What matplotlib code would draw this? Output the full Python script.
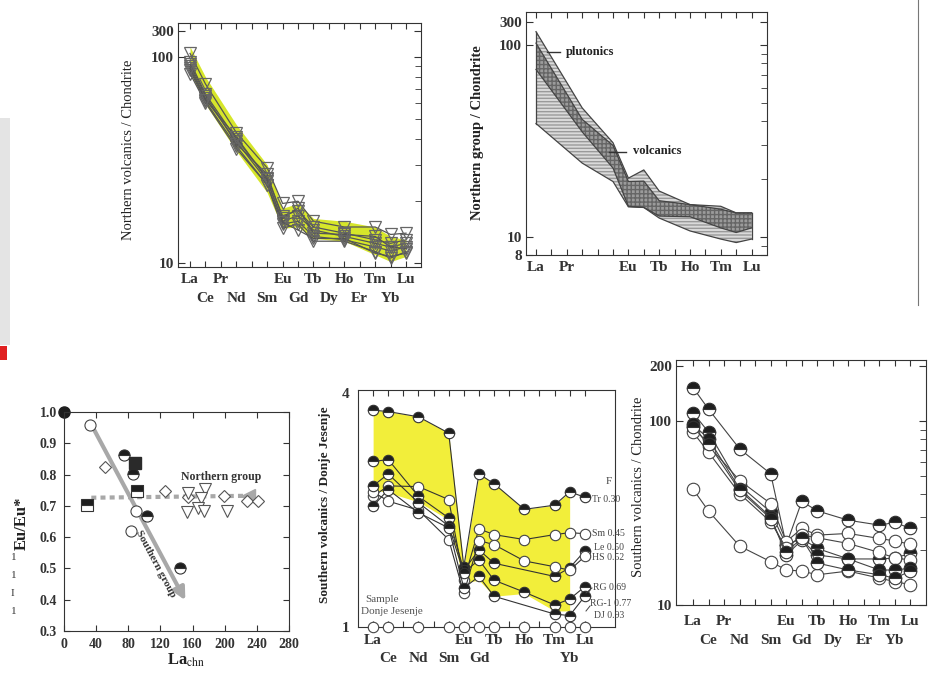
import numpy as np
import matplotlib
matplotlib.use("Agg")
import matplotlib.pyplot as plt
from matplotlib.lines import Line2D
from matplotlib.patches import Rectangle
from matplotlib.ticker import LogLocator, NullFormatter

plt.rcParams['font.family'] = ['Liberation Serif', 'DejaVu Serif']
plt.rcParams['mathtext.fontset'] = 'stix'
plt.rcParams['axes.edgecolor'] = '#333333'
plt.rcParams['xtick.color'] = '#333333'
plt.rcParams['ytick.color'] = '#333333'
plt.rcParams['text.color'] = '#222222'

W, H = 933, 677
nan = np.nan

ree = ['La', 'Ce', 'Pr', 'Nd', 'Pm', 'Sm', 'Eu', 'Gd', 'Tb', 'Dy', 'Ho', 'Er', 'Tm', 'Yb', 'Lu']
ree_x = {e: i + 1 for i, e in enumerate(ree)}

#*** data: northern volcanics / chondrite ***#
nv_elems = ['La', 'Ce', 'Nd', 'Sm', 'Eu', 'Gd', 'Tb', 'Ho', 'Tm', 'Yb', 'Lu']
nv_a = [104, 74, 43, 29, 19.5, 20, 16, 15, 15, 13.8, 14]
nv_b = [95, 66, 40, 26, 17, 18, 15, 14, 13, 12.5, 13]
nv_c = [90, 63, 39, 25, 16, 17, 14.5, 13.5, 12.5, 12, 12.5]
nv_d = [86, 61, 37, 24, 15.5, 16, 13.5, 13, 12, 11.5, 12]
nv_e = [83, 60, 36, 24, 14.8, 15.5, 12.8, 12.8, 11.4, 10.6, 11.4]
nv_f = [92, 65, 38, 27, 16.5, 18.5, 14, 13.8, 13.5, 12, 11.8]
nv_g = [88, 62, 41, 25.5, 15.8, 14.5, 13.2, 13.2, 11.2, 10.8, 11.2]
nv_band_hi = [112, 80, 47, 30, 18.5, 19.5, 16.5, 16, 15, 13.5, 13]
nv_band_lo = [84, 59, 35, 22, 14.8, 15, 13.2, 12.8, 11, 10.2, 10.8]

#*** data: northern group envelopes ***#
ng_elems = ['La', 'Nd', 'Sm', 'Eu', 'Gd', 'Tb', 'Ho', 'Tm', 'Yb', 'Lu']
plut_hi = [117, 47, 31, 20.3, 22.4, 17.4, 14.8, 14.5, 13.4, 13.4]
plut_lo = [39, 24.3, 19.5, 14.4, 14.3, 12.6, 10.8, 9.8, 9.4, 9.8]
volc_hi = [102, 41, 30, 19.5, 19.6, 15.5, 14.8, 14, 13.4, 13.4]
volc_lo = [74.5, 35.3, 22.9, 14.5, 14.3, 12.9, 12.8, 11.2, 10.6, 11.2]

#*** data: Eu/Eu* vs La ***#
open_circ_x = [32, 89.6, 83]
open_circ_y = [0.96, 0.685, 0.621]
half_circ_x = [75, 85.4, 103, 144]
half_circ_y = [0.864, 0.803, 0.666, 0.50]
full_circ_x = [0]
full_circ_y = [1.0]
full_sq_x = [88.3]
full_sq_y = [0.837]
half_sq_x = [91, 28]
half_sq_y = [0.746, 0.703]
diam_x = [51, 126, 154, 199, 228, 242]
diam_y = [0.823, 0.748, 0.728, 0.732, 0.714, 0.716]
tri_x = [154, 176, 171, 153, 167, 174, 203]
tri_y = [0.741, 0.754, 0.725, 0.68, 0.693, 0.682, 0.685]

#*** data: southern volcanics / Donje Jesenje ***#
sj_elems = ['La', 'Ce', 'Nd', 'Sm', 'Eu', 'Gd', 'Tb', 'Ho', 'Tm', 'Yb', 'Lu']
sj_tr = [3.62, 3.59, 3.48, 3.16, 1.43, 2.48, 2.34, 2.01, 2.06, 2.23, 2.16]
sj_sm = [2.17, 2.31, 2.30, 2.13, 1.32, 1.79, 1.73, 1.68, 1.73, 1.75, 1.74]
sj_le = [2.67, 2.70, 2.17, 1.91, 1.40, 1.58, 1.46, nan, 1.35, 1.42, 1.57]
sj_hs = [2.23, 2.11, 2.00, 1.68, 1.22, 1.67, 1.63, 1.48, 1.43, 1.40, 1.52]
sj_rg = [2.31, 2.48, 2.09, 1.82, 1.38, 1.49, 1.32, 1.23, 1.14, 1.18, 1.27]
sj_rg1 = [2.05, 2.26, 1.97, 1.80, 1.26, 1.35, 1.20, nan, 1.08, 1.07, 1.20]
sj_dj = [1.0] * 11
sj_fill_lo = [2.26, 2.22, 2.10, 1.89, 1.30, 1.32, 1.20, 1.22, 1.10, 1.10]
sj_labels = ['Tr 0.30', 'Sm 0.45', 'Le 0.50', 'HS 0.52', 'RG 0.69', 'RG-1 0.77', 'DJ 0.93']

#*** data: southern volcanics / chondrite ***#
sv_elems = ['La', 'Ce', 'Nd', 'Sm', 'Eu', 'Gd', 'Tb', 'Ho', 'Tm', 'Yb', 'Lu']
sv_1 = [152, 116, 70.6, 51.7, 21.2, 36.6, 32.5, 28.9, 27.2, 28.1, 26.1]
sv_2 = [42.6, 32.4, 20.9, 17.2, 15.5, 15.3, 14.6, 15.3, 14.0, 13.4, 12.9]
sv_3 = [111, 87, 44.7, 32, 21.2, 23, 20.3, 17.8, 17.8, 18, 19.1]
sv_4 = [94.4, 73.6, 47.5, 35.6, 22.1, 26.1, 24, 24.5, 23, 22.3, 21.4]
sv_5 = [87, 67.6, 40.3, 28.3, 20.4, 24, 23.2, 21.6, 19.3, 18, 17.6]
sv_6 = [96, 80, 42.9, 30.1, 18.7, 22.5, 18.7, 17.8, 15.5, 15.5, 15.85]
sv_7 = [93, 75, 42, 29.5, 19.5, 23, 16.9, 15.5, 14.6, 14, 15.3]


fig = plt.figure(figsize=(W / 100, H / 100), dpi=100)


def add_axes_px(l, t, r, b):
    return fig.add_axes([l / W, 1 - b / H, (r - l) / W, (b - t) / H])


def ftext(x, y, s, **kw):
    fig.text(x / W, 1 - y / H, s, **kw)


def fline(xs, ys, **kw):
    fig.add_artist(Line2D([x / W for x in xs], [1 - y / H for y in ys], **kw))


def ree_xaxis(ax, xlim, row1, row2):
    ax.set_xlim(*xlim)
    rest = [e for e in ree if e not in row1]
    ax.set_xticks([ree_x[e] for e in row1])
    ax.set_xticklabels(row1, fontsize=11, fontweight='bold')
    ax.set_xticks([ree_x[e] for e in rest], minor=True)
    ax.set_xticklabels([e if e in row2 else '' for e in rest], minor=True,
                       fontsize=11, fontweight='bold')
    ax.tick_params(axis='x', which='both', direction='in', top=True, length=4, width=0.8)
    ax.tick_params(axis='x', which='major', pad=4)
    ax.tick_params(axis='x', which='minor', pad=18)


def log_yaxis(ax, ylim, ticks, labels):
    ax.set_yscale('log')
    ax.set_ylim(*ylim)
    ax.set_yticks(ticks)
    ax.set_yticklabels(labels, fontsize=11, fontweight='bold')
    ax.yaxis.set_minor_locator(LogLocator(base=10, subs=np.arange(2, 10)))
    ax.yaxis.set_minor_formatter(NullFormatter())
    ax.tick_params(axis='y', which='major', direction='in', left=True, right=True, length=5, pad=3)
    ax.tick_params(axis='y', which='minor', direction='in', left=False, right=True, length=4)


def xs_of(elems, vals):
    x = np.array([ree_x[e] for e in elems], dtype=float)
    y = np.array(vals, dtype=float)
    ok = ~np.isnan(y)
    return x[ok], y[ok]


half_kw = dict(marker='o', fillstyle='top', mfc='#1e1e1e', mfcalt='white', mec='#333333', mew=0.8)
open_kw = dict(marker='o', mfc='white', mec='#444444', mew=0.8)

#*** Top left ***#
ax1 = add_axes_px(178, 23, 421, 267)
ex = [ree_x[e] for e in nv_elems]
ax1.fill_between(ex, nv_band_lo, nv_band_hi, color='#d6e62a', lw=0, zorder=1)
for s in [nv_a, nv_b, nv_c, nv_d, nv_e, nv_f, nv_g]:
    ax1.plot(ex, s, color='#555555', lw=0.9, marker='v', ms=8, mfc='none',
             mec='#666666', mew=0.9, zorder=3)
ree_xaxis(ax1, (0.22, 15.97), ['La', 'Pr', 'Eu', 'Tb', 'Ho', 'Tm', 'Lu'],
          ['Ce', 'Nd', 'Sm', 'Gd', 'Dy', 'Er', 'Yb'])
log_yaxis(ax1, (9.6, 146), [10, 100, 133], ['10', '100', '300'])
ftext(128, 150, 'Northern volcanics / Chondrite', rotation=90, ha='center', va='center', fontsize=10.5)

#*** Top right ***#
ax2 = add_axes_px(526, 12, 767, 255)
gx = [ree_x[e] for e in ng_elems]
ax2.fill_between(gx, plut_lo, plut_hi, facecolor='#dadada', lw=0, zorder=1)
ax2.fill_between(gx, plut_lo, plut_hi, facecolor='none', edgecolor='#9a9a9a',
                 hatch='-----', lw=0, zorder=1)
ax2.fill_between(gx, volc_lo, volc_hi, facecolor='#9b9b9b', lw=0, zorder=2)
ax2.fill_between(gx, volc_lo, volc_hi, facecolor='none', edgecolor='#666666',
                 hatch='++++', lw=0, zorder=2)
for s in [plut_hi, plut_lo, volc_hi, volc_lo]:
    ax2.plot(gx, s, color='#444444', lw=0.9, zorder=3)
ax2.plot([gx[0], gx[0]], [plut_lo[0], plut_hi[0]], color='#444444', lw=0.9, zorder=3)
ax2.plot([gx[-1], gx[-1]], [plut_lo[-1], plut_hi[-1]], color='#444444', lw=0.9, zorder=3)
ree_xaxis(ax2, (0.35, 16.0), ['La', 'Pr', 'Eu', 'Tb', 'Ho', 'Tm', 'Lu'], [])
log_yaxis(ax2, (8.1, 148), [8.1, 10, 100, 132], ['8', '10', '100', '300'])
ftext(478, 133, 'Northern group / Chondrite', rotation=90, ha='center', va='center',
      fontsize=10.5, fontweight='bold')
fline([547, 560], [52, 52], color='#333333', lw=1)
ftext(566, 52, 'plutonics', ha='left', va='center', fontsize=9, fontweight='bold')
fline([609, 626], [152, 152], color='#333333', lw=1)
ftext(633, 151, 'volcanics', ha='left', va='center', fontsize=9, fontweight='bold')

#*** Bottom left ***#
ax3 = add_axes_px(64, 412, 289, 631)
ax3.set_xlim(0, 280)
ax3.set_ylim(0.3, 1.0)
ax3.annotate('', xy=(151, 0.398), xytext=(34, 0.96),
             arrowprops=dict(arrowstyle='-|>', lw=3, color='#a8a8a8', mutation_scale=18,
                             shrinkA=0, shrinkB=0), zorder=1)
ax3.plot([34, 224], [0.726, 0.732], ls=(0, (1.2, 1.0)), lw=3, color='#a8a8a8', zorder=1)
ax3.plot([229], [0.733], marker='<', ms=10, color='#a8a8a8', zorder=1)
ax3.text(114, 0.514, 'Southern group', rotation=-62, ha='center', va='center',
         fontsize=8, fontweight='bold', color='#333333')
ax3.text(195, 0.791, 'Northern group', ha='center', va='center', fontsize=8.5,
         fontweight='bold', color='#333333')
ax3.plot(diam_x, diam_y, ls='none', marker='D', ms=6, mfc='white', mec='#555555', mew=0.8)
ax3.plot(tri_x, tri_y, ls='none', marker='v', ms=8, mfc='white', mec='#555555', mew=0.8)
ax3.plot(open_circ_x, open_circ_y, ls='none', ms=8, **open_kw)
ax3.plot(half_circ_x, half_circ_y, ls='none', ms=8, **half_kw)
ax3.plot(full_circ_x, full_circ_y, ls='none', marker='o', ms=8, color='#1e1e1e', clip_on=False)
ax3.plot(full_sq_x, full_sq_y, ls='none', marker='s', ms=8, color='#2a2a2a')
ax3.plot(half_sq_x, half_sq_y, ls='none', marker='s', ms=8, fillstyle='top', mfc='#1e1e1e',
         mfcalt='white', mec='#333333', mew=0.8)
ax3.set_xticks(np.arange(0, 281, 40))
ax3.set_yticks(np.arange(0.3, 1.01, 0.1))
ax3.set_yticklabels(['%.1f' % v for v in np.arange(0.3, 1.01, 0.1)], fontsize=10, fontweight='bold')
ax3.set_xticklabels([str(v) for v in range(0, 281, 40)], fontsize=10, fontweight='bold')
ax3.tick_params(direction='in', top=True, right=True, length=4, pad=5)
ftext(22, 523, 'Eu/Eu*', rotation=90, ha='center', va='center', fontsize=12, fontweight='bold')
ftext(186, 660, r'La$_{\mathrm{chn}}$', ha='center', va='center', fontsize=12, fontweight='bold')

#*** Bottom middle ***#
ax4 = add_axes_px(358, 390, 615, 627)
fx = [ree_x[e] for e in sj_elems[:-1]]
ax4.fill_between(fx, sj_fill_lo, sj_tr[:-1], color='#f2ee3a', lw=0, zorder=1)
sj_all = [sj_tr, sj_sm, sj_le, sj_hs, sj_rg, sj_rg1]
sj_half = [True, False, True, False, True, True]
for s, h in zip(sj_all, sj_half):
    x, y = xs_of(sj_elems, s)
    kw = half_kw if h else open_kw
    ax4.plot(x, y, color='#333333', lw=0.8, ms=7.5, zorder=3, **kw)
x, y = xs_of(sj_elems, sj_dj)
ax4.plot(x, y, ls='none', ms=7.5, zorder=4, clip_on=False, **open_kw)
ree_xaxis(ax4, (0.0, 17.0), ['La', 'Eu', 'Tb', 'Ho', 'Tm', 'Lu'], ['Ce', 'Nd', 'Sm', 'Gd', 'Yb'])
ax4.tick_params(axis='x', which='major', pad=5)
ax4.set_yscale('log')
ax4.set_ylim(1, 4.08)
ax4.set_yticks([1, 4])
ax4.set_yticklabels(['1', '4'], fontsize=11, fontweight='bold')
ax4.yaxis.set_minor_locator(plt.NullLocator())
ax4.tick_params(axis='y', length=0, pad=6)
ftext(325, 505, 'Southern volcanics / Donje Jesenje', rotation=90, ha='center', va='center',
      fontsize=9.5, fontweight='bold')
ftext(365, 600, 'Sample', ha='left', va='center', fontsize=8, color='#555555')
ftext(361, 612, 'Donje Jesenje', ha='left', va='center', fontsize=8, color='#555555')
ftext(606, 482, 'F', ha='left', va='center', fontsize=8, color='#444444')
lab_y = [500, 534, 547, 558, 587, 604, 616]
lab_x = [592, 592, 594, 592, 593, 590, 594]
for s, lx, ly in zip(sj_labels, lab_x, lab_y):
    ftext(lx, ly, s, ha='left', va='center', fontsize=7, color='#444444')
fline([586, 592], [593, 588], color='#444444', lw=0.7)
fline([586, 590], [611, 606], color='#444444', lw=0.7)

#*** Bottom right ***#
ax5 = add_axes_px(676, 360, 926, 605)
vx = [ree_x[e] for e in sv_elems]
sv_all = [sv_1, sv_2, sv_3, sv_4, sv_5, sv_6, sv_7]
sv_half = [True, False, True, False, False, True, True]
for s, h in zip(sv_all, sv_half):
    kw = half_kw if h else open_kw
    ax5.plot(vx, s, color='#444444', lw=0.8, ms=9, zorder=3, **kw)
ree_xaxis(ax5, (-0.1, 16.0), ['La', 'Pr', 'Eu', 'Tb', 'Ho', 'Tm', 'Lu'],
          ['Ce', 'Nd', 'Sm', 'Gd', 'Dy', 'Er', 'Yb'])
ax5.tick_params(axis='x', which='major', pad=7)
ax5.tick_params(axis='x', which='minor', pad=21)
log_yaxis(ax5, (10, 215), [10, 100, 200], ['10', '100', '200'])
ftext(638, 487, 'Southern volcanics / Chondrite', rotation=90, ha='center', va='center', fontsize=10.5)

# bits of the neighbouring page on the scan
fig.add_artist(Rectangle((0, 1 - 345 / H), 10 / W, 227 / H, transform=fig.transFigure,
                         facecolor='#e4e4e4', edgecolor='none'))
fig.add_artist(Rectangle((0, 1 - 360 / H), 7 / W, 14 / H, transform=fig.transFigure,
                         facecolor='#e02020', edgecolor='none'))
fline([918, 918], [0, 305], color='#777777', lw=0.8)
for yy, ch in zip([557, 575, 593, 611], ['1', '1', 'I', '1']):
    ftext(11, yy, ch, ha='left', va='center', fontsize=8, color='#333333')

plt.savefig('out.png', dpi=100)
